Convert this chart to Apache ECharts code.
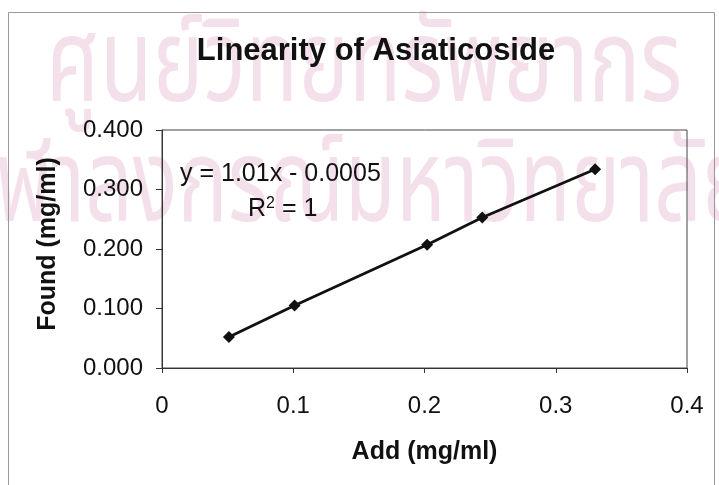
<!DOCTYPE html>
<html>
<head>
<meta charset="utf-8">
<script src="https://cdn.jsdelivr.net/npm/echarts@6/dist/echarts.min.js"></script>
<style>
html,body{margin:0;padding:0;background:#fff;}
#c{width:719px;height:485px;}
</style>
</head>
<body>
<div id="c"></div>
<script>
const addValues = [0.051, 0.101, 0.202, 0.244, 0.330];
const foundValues = [0.052, 0.105, 0.207, 0.253, 0.334];
const xTicks = [0, 0.1, 0.2, 0.3, 0.4];
const yTicks = [0.000, 0.100, 0.200, 0.300, 0.400];
const titleText = 'Linearity of Asiaticoside';
const xName = 'Add (mg/ml)';
const yName = 'Found (mg/ml)';
const eqLine1 = 'y = 1.01x - 0.0005';
const eqLine2 = 'R{sup|2} = 1';
const watermark1 = 'ศูนย์วิทยทรัพยากร';
const watermark2 = 'จุฬาลงกรณ์มหาวิทยาลัย';

const points = addValues.map((x, i) => [x, foundValues[i]]);
const FONT = '"Liberation Sans", Arial, sans-serif';
const WFONT = '"Noto Sans Thai", "Noto Sans", "DejaVu Sans", sans-serif';

const chart = echarts.init(document.getElementById('c'), null, {renderer: 'canvas'});
chart.setOption({
  backgroundColor: '#ffffff',
  animation: false,
  title: {
    text: titleText,
    left: 371, top: 31, textAlign: 'center',
    textStyle: {fontFamily: FONT, fontSize: 31, fontWeight: 'bold', color: '#111'}
  },
  grid: {left: 162, top: 130, width: 525, height: 238, show: true, borderColor: '#444', borderWidth: 1, backgroundColor: 'transparent'},
  xAxis: {
    type: 'value', min: xTicks[0], max: xTicks[xTicks.length - 1], interval: 0.1,
    name: xName, nameLocation: 'middle', nameGap: 72,
    nameTextStyle: {fontFamily: FONT, fontSize: 25, fontWeight: 'bold', color: '#111'},
    axisLine: {show: true, onZero: false, lineStyle: {color: '#333', width: 1}},
    axisTick: {show: true, inside: false, length: 5, lineStyle: {color: '#333'}},
    splitLine: {show: false},
    axisLabel: {margin: 26, fontFamily: FONT, fontSize: 24, color: '#111',
      formatter: v => String(+v.toFixed(1))}
  },
  yAxis: {
    type: 'value', min: yTicks[0], max: yTicks[yTicks.length - 1], interval: 0.1,
    name: yName, nameLocation: 'middle', nameGap: 101, nameRotate: 90,
    nameTextStyle: {fontFamily: FONT, fontSize: 25, fontWeight: 'bold', color: '#111', padding: [0, 0, 0, 10]},
    axisLine: {show: true, onZero: false, lineStyle: {color: '#333', width: 1}},
    axisTick: {show: true, inside: false, length: 6, lineStyle: {color: '#333'}},
    splitLine: {show: false},
    axisLabel: {margin: 19, fontFamily: FONT, fontSize: 24, color: '#111',
      formatter: v => v.toFixed(3)}
  },
  graphic: [
    {type: 'text', z: -10, x: 46, y: 20, scaleX: 0.74, silent: true,
      style: {text: watermark1, x: 0, y: 0, textAlign: 'left', textVerticalAlign: 'top', font: '116px ' + WFONT, fill: '#f4e0ea'}},
    {type: 'text', z: -10, x: -49, y: 140, scaleX: 0.72, silent: true,
      style: {text: watermark2, x: 0, y: 0, textAlign: 'left', textVerticalAlign: 'top', font: '116px ' + WFONT, fill: '#f4e0ea'}},
    {type: 'rect', shape: {x: 8.5, y: 12.5, width: 706, height: 480}, style: {fill: 'none', stroke: '#999', lineWidth: 1}, silent: true},
    {type: 'text', left: 180, top: 162, style: {text: eqLine1, font: '25px ' + FONT, fill: '#111'}},
    {type: 'text', left: 248, top: 196, style: {text: eqLine2, font: '25px ' + FONT, fill: '#111',
      rich: {sup: {fontSize: 16, verticalAlign: 'top', padding: [0,0,10,0], fontFamily: FONT, fill: '#111'}}}}
  ],
  series: [{
    type: 'line',
    data: points,
    symbol: 'diamond', symbolSize: 12,
    itemStyle: {color: '#111'},
    lineStyle: {color: '#111', width: 2.8}
  }]
});
</script>
</body>
</html>
